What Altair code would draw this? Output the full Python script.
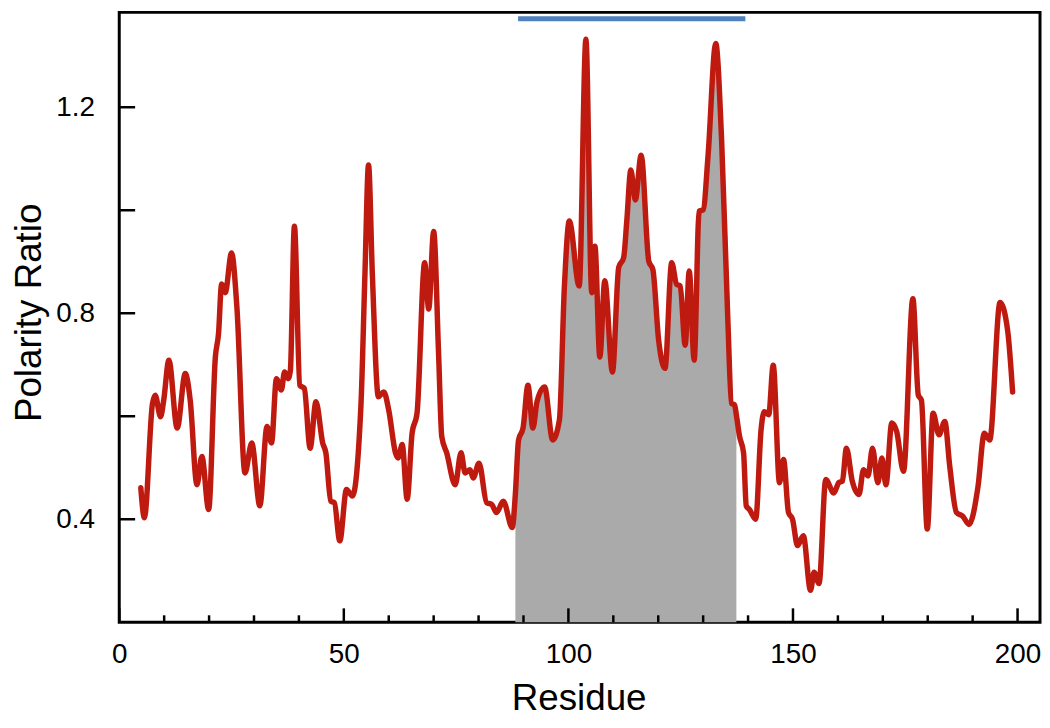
import altair as alt
import pandas as pd

# ---- data ----
residue = [4.8, 5.6, 7.4, 8.0, 9.2, 9.9, 11.05, 12.9, 14.7, 15.8, 17.3, 18.4, 19.9,
           21.4, 22.1, 22.8, 23.6, 25.0, 26.2, 28.0, 29.5, 31.3, 32.9, 33.9, 35.0,
           36.1, 36.8, 37.6, 38.1, 39.0, 40.2, 41.2, 42.5, 43.8, 45.3, 46.0, 47.1,
           47.9, 49.1, 50.6, 51.9, 53.8, 54.7, 55.5, 56.35, 57.7, 58.9, 60.0, 61.5,
           62.1, 63.0, 64.1, 65.2, 66.3, 68.0, 68.9, 70.0, 71.1, 71.8, 72.9, 74.8,
           76.1, 77.0, 78.1, 78.8, 80.1, 81.8, 82.9, 84.0, 85.5, 87.5, 88.2, 88.9,
           89.9, 91.0, 92.1, 93.0, 94.7, 96.5, 98.0, 99.1, 100.2, 102.4, 103.9, 105.2,
           105.9, 107.0, 108.1, 109.8, 111.2, 112.3, 113.0, 113.9, 114.9, 116.2, 117.9,
           118.8, 120.1, 121.5, 123.0, 124.1, 124.9, 126.0, 126.9, 128.0, 129.1, 130.0,
           131.1, 132.8, 134.1, 135.5, 136.3, 137.0, 137.4, 138.1, 139.0, 139.6, 140.3,
           141.7, 142.9, 143.6, 144.6, 145.6, 147.0, 147.9, 149.0, 149.9, 151.0, 152.3,
           153.9, 154.7, 155.8, 157.3, 159.1, 160.2, 161.0, 161.9, 163.2, 164.7, 165.7,
           166.7, 167.7, 168.9, 169.8, 170.7, 172.0, 173.1, 174.6, 176.7, 177.9, 178.6,
           179.9, 181.2, 182.5, 183.8, 184.9, 186.4, 187.8, 189.2, 191.2, 192.6, 193.8,
           196.1, 197.8, 198.9]
ratio = [0.461, 0.403, 0.625, 0.641, 0.599, 0.631, 0.709, 0.577, 0.683, 0.631, 0.467, 0.522, 0.419,
         0.715, 0.760, 0.857, 0.840, 0.917, 0.811, 0.490, 0.548, 0.426, 0.580, 0.548, 0.673,
         0.651, 0.686, 0.673, 0.689, 0.969, 0.660, 0.654, 0.538, 0.628, 0.548, 0.529, 0.435,
         0.432, 0.358, 0.458, 0.445, 0.619, 0.876, 1.088, 0.876, 0.638, 0.647, 0.612, 0.529,
         0.519, 0.545, 0.439, 0.567, 0.606, 0.898, 0.808, 0.959, 0.721, 0.561, 0.529, 0.467,
         0.529, 0.490, 0.496, 0.480, 0.509, 0.432, 0.429, 0.413, 0.435, 0.384, 0.450, 0.554,
         0.577, 0.660, 0.577, 0.628, 0.657, 0.554, 0.593, 0.850, 0.979, 0.853, 1.332, 0.840,
         0.930, 0.715, 0.863, 0.686, 0.889, 0.908, 0.979, 1.078, 1.020, 1.107, 0.901,
         0.885, 0.747, 0.693, 0.898, 0.856, 0.853, 0.738, 0.882, 0.709, 0.998, 1.001,
         1.107, 1.324, 1.139, 0.786, 0.625, 0.622, 0.602, 0.561, 0.529, 0.426, 0.419,
         0.400, 0.574, 0.609, 0.603, 0.699, 0.471, 0.516, 0.413, 0.400, 0.349, 0.368,
         0.262, 0.297, 0.275, 0.477, 0.451, 0.471, 0.474, 0.538, 0.474, 0.448, 0.496,
         0.484, 0.538, 0.471, 0.519, 0.467, 0.587, 0.570, 0.493, 0.828, 0.641, 0.631,
         0.381, 0.606, 0.564, 0.590, 0.503, 0.413, 0.406, 0.390, 0.464, 0.567, 0.554,
         0.821, 0.766, 0.647]

shade_start = 88.2
shade_end = 137.4

bar_start = [88.8]
bar_end = [139.4]
bar_level = [1.372]

x_major = [0, 50, 100, 150, 200]
x_minor = [10, 20, 30, 40, 60, 70, 80, 90, 110, 120, 130, 140, 160, 170, 180, 190]
y_ticks = [0.4, 0.6, 0.8, 1.0, 1.2]
y_labels = [0.4, 0.8, 1.2]

W, H = 927, 614
FONT = "Liberation Sans"

df = pd.DataFrame({"Residue": residue, "Ratio": ratio})
xs = alt.Scale(domain=[0, 205], nice=False, zero=False)
ys = alt.Scale(domain=[0.2, 1.3842], nice=False, zero=False)

xaxis = alt.Axis(values=x_major, title="Residue", ticks=False, domain=False, grid=False,
                 labelPadding=19, labelFontSize=28, labelFont=FONT, labelColor="black",
                 labelFlush=False, titleFont=FONT, titleFontSize=37,
                 titleFontWeight="normal", titleColor="black",
                 titleBaseline="alphabetic", titleY=88, titleX=W / 2 - 1)
yaxis = alt.Axis(values=y_labels, format=".1f", title="Polarity Ratio", ticks=False,
                 domain=False, grid=False, labelPadding=25, labelFontSize=28,
                 labelFont=FONT, labelColor="black", labelFlush=False,
                 titleFont=FONT, titleFontSize=37, titleFontWeight="normal",
                 titleColor="black", titleAngle=270, titleBaseline="alphabetic",
                 titleAlign="center", titleX=-79, titleY=302)

area = alt.Chart(df).transform_filter(
    (alt.datum.Residue >= shade_start) & (alt.datum.Residue <= shade_end)
).mark_area(interpolate="monotone", color="#aaaaaa", opacity=1).encode(
    x=alt.X("Residue:Q", scale=xs, axis=xaxis),
    y=alt.Y("Ratio:Q", scale=ys, axis=yaxis),
    y2=alt.datum(0.2),
)

line = alt.Chart(df).mark_line(
    interpolate="monotone", color="#bf1a10", strokeWidth=5.5,
    strokeJoin="round", strokeCap="round"
).encode(
    x=alt.X("Residue:Q", scale=xs, axis=xaxis),
    y=alt.Y("Ratio:Q", scale=ys, axis=yaxis),
)

xmaj = alt.Chart(pd.DataFrame({"t": x_major})).mark_rule(color="black", strokeWidth=2.5).encode(
    x=alt.X("t:Q", scale=xs, axis=xaxis), y=alt.value(H), y2=alt.value(H - 14))
xmin = alt.Chart(pd.DataFrame({"t": x_minor})).mark_rule(color="black", strokeWidth=2.5).encode(
    x=alt.X("t:Q", scale=xs, axis=xaxis), y=alt.value(H), y2=alt.value(H - 7))
ytk = alt.Chart(pd.DataFrame({"t": y_ticks})).mark_rule(color="black", strokeWidth=2.5).encode(
    y=alt.Y("t:Q", scale=ys, axis=yaxis), x=alt.value(0), x2=alt.value(16))

bar = alt.Chart(pd.DataFrame({"s": bar_start, "e": bar_end, "v": bar_level})).mark_rule(
    color="#4f81bd", strokeWidth=5, strokeCap="butt").encode(
    x=alt.X("s:Q", scale=xs, axis=xaxis), x2="e:Q",
    y=alt.Y("v:Q", scale=ys, axis=yaxis))

chart = alt.layer(area, line, xmaj, xmin, ytk, bar).properties(
    width=W, height=H,
    autosize=alt.AutoSizeParams(type="none"),
    padding={"left": 112, "top": 2, "right": 2, "bottom": 96},
    background="white",
).configure_view(stroke="black", strokeWidth=3)

chart.save("out.html", embed_options={"renderer": "svg", "actions": False})
